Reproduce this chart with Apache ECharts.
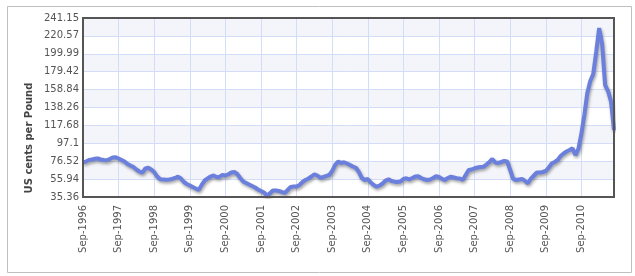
<!DOCTYPE html>
<html><head><meta charset="utf-8">
<script src="https://cdn.jsdelivr.net/npm/echarts@6/dist/echarts.min.js"></script>
<style>html,body{margin:0;padding:0;background:#fff}#c{width:635px;height:276px}</style>
</head><body><div id="c"></div>
<script>
// Monthly categories Sep-1996 .. Aug-2011
var monthNames = ['Jan','Feb','Mar','Apr','May','Jun','Jul','Aug','Sep','Oct','Nov','Dec'];
var startYear = 1996, startMonth = 8, monthCount = 180;
var categories = [];
for (var k = 0; k < monthCount; k++) {
  var m = (startMonth + k) % 12, y = startYear + Math.floor((startMonth + k) / 12);
  categories.push(monthNames[m] + '-' + y);
}
// US cents per pound
var prices = [
 74.8,76.2,77.9,78.5,79.3,79.6,78.5,77.9,77.6,79.0,80.8,81.0,
 79.6,77.9,76.2,73.3,71.6,69.8,67.0,64.7,63.3,68.1,69.0,67.0,
 64.1,58.9,55.7,55.5,55.1,55.5,56.1,57.2,58.7,56.6,52.6,50.3,
 48.6,46.8,45.1,43.4,49.2,54.3,56.6,58.9,60.1,58.4,58.4,60.7,
 60.1,61.5,63.5,64.1,61.8,57.2,53.2,51.5,49.7,48.0,46.3,44.0,
 42.3,40.5,37.2,39.4,42.8,42.8,42.3,41.1,40.0,43.4,46.9,47.4,
 47.4,49.2,52.6,54.9,56.6,58.9,61.5,60.1,57.5,58.4,59.5,60.7,
 65.3,72.2,76.0,74.5,75.3,73.9,72.2,70.4,69.0,64.1,57.2,54.9,
 56.1,52.0,49.2,47.2,48.6,50.9,54.3,55.7,53.8,53.0,52.6,53.2,
 56.1,56.9,55.7,57.2,58.9,59.2,57.2,55.7,54.9,55.5,57.2,59.2,
 58.4,56.1,54.9,57.2,58.7,57.8,56.9,56.6,54.9,60.7,66.4,67.0,
 68.4,69.3,69.8,70.2,72.7,75.6,79.0,75.0,74.5,75.6,76.8,76.2,
 66.4,56.1,54.9,55.5,56.1,53.8,51.1,56.6,60.1,63.5,63.5,64.1,
 65.3,69.3,73.9,75.6,77.9,82.5,85.4,87.7,89.4,91.4,83.6,90.6,
 107.8,129.6,155.0,168.7,176.8,202.1,229.67,211.0,164.1,157.2,145.0,112.4
];
var yTickLabels = ['35.36','55.94','76.52','97.1','117.68','138.26','158.84','179.42','199.99','220.57','241.15'];
var yMin = 35.36, yMax = 241.15;

var chart = echarts.init(document.getElementById('c'));
var FONT = 'DejaVu Sans';
chart.setOption({
  animation: false,
  backgroundColor: '#ffffff',
  grid: {left: 83, right: 21, top: 18, bottom: 79, show: true, borderColor: '#555', borderWidth: 2, backgroundColor: 'transparent', z: 5},
  graphic: [
    {type: 'rect', left: 5, top: 4, shape: {width: 624, height: 266}, style: {fill: 'none', stroke: '#bfbfbf', lineWidth: 1}, z: -10},
    {type: 'text', x: 29, y: 138, rotation: Math.PI / 2,
     style: {text: 'US cents per Pound', font: 'bold 10px "DejaVu Sans"', fill: '#444', textAlign: 'center', textVerticalAlign: 'middle'}}
  ],
  xAxis: {
    type: 'category', data: categories, boundaryGap: false,
    axisLine: {show: true, lineStyle: {color: '#555', width: 2}},
    axisTick: {show: false},
    axisLabel: {interval: 11, rotate: 90, margin: 8, color: '#555', fontFamily: FONT, fontSize: 10},
    splitLine: {show: true, interval: 11, lineStyle: {color: '#d3ddf7', width: 1}}
  },
  yAxis: {
    type: 'value', min: yMin, max: yMax, interval: (yMax - yMin) / 10,
    axisLine: {show: true, lineStyle: {color: '#555', width: 2}},
    axisTick: {show: false},
    axisLabel: {margin: 4, color: '#555', fontFamily: FONT, fontSize: 10,
      formatter: function (v, i) { return yTickLabels[i] !== undefined ? yTickLabels[i] : ''; }},
    splitLine: {show: true, lineStyle: {color: '#d3ddf7', width: 1}},
    splitArea: {show: true, areaStyle: {color: ['#ffffff', '#f4f5fa']}}
  },
  series: [{
    type: 'line', data: prices, symbol: 'none', smooth: false,
    lineStyle: {color: '#6b7fdc', width: 4, shadowColor: 'rgba(0,0,0,0.35)', shadowBlur: 3, shadowOffsetX: 1, shadowOffsetY: 2}
  }]
});
</script></body></html>
